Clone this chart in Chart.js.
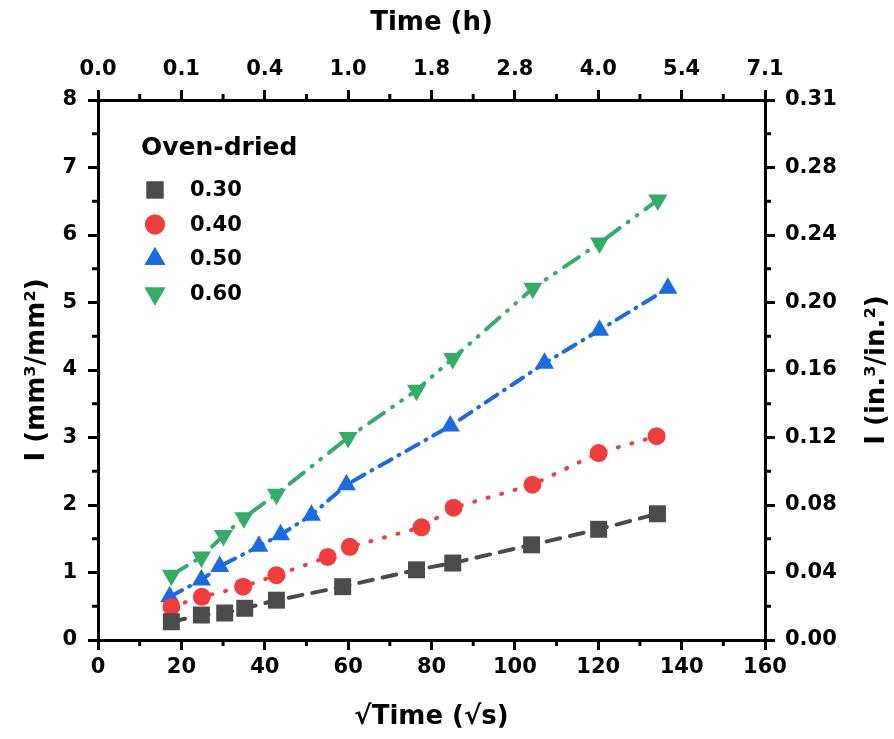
<!DOCTYPE html>
<html><head><meta charset="utf-8">
<script src="https://cdn.jsdelivr.net/npm/chart.js@4/dist/chart.umd.min.js"></script>
<style>html,body{margin:0;padding:0;background:#fff;overflow:hidden}#wrap{width:894px;height:739px;position:relative}</style>
</head><body><div id="wrap"><canvas id="c" width="894" height="739"></canvas></div>
<script>
// ---- data ----
const seriesNames = ['0.30', '0.40', '0.50', '0.60'];
const legendTitle = 'Oven-dried';

const xGray = [17.6, 24.8, 30.4, 35.2, 42.8, 58.7, 76.4, 85.1, 104.0, 120.1, 134.2];
const yGray = [0.27, 0.37, 0.40, 0.47, 0.59, 0.79, 1.04, 1.14, 1.41, 1.64, 1.87];

const xRed = [17.6, 24.9, 34.8, 42.8, 55.1, 60.4, 77.6, 85.3, 104.2, 120.1, 134.0];
const yRed = [0.49, 0.64, 0.79, 0.96, 1.23, 1.38, 1.67, 1.96, 2.30, 2.77, 3.02];

const xBlue = [17.2, 24.8, 29.2, 38.6, 43.8, 51.2, 59.6, 84.5, 107.1, 120.3, 136.7];
const yBlue = [0.64, 0.89, 1.09, 1.39, 1.56, 1.85, 2.30, 3.17, 4.10, 4.59, 5.21];

const xGreen = [17.6, 24.8, 30.1, 35.0, 42.8, 60.0, 76.4, 85.1, 104.3, 120.3, 134.3];
const yGreen = [0.96, 1.23, 1.55, 1.81, 2.16, 3.00, 3.70, 4.17, 5.21, 5.88, 6.52];

const bottomTickLabels = ['0', '20', '40', '60', '80', '100', '120', '140', '160'];
const topTickLabels = ['0.0', '0.1', '0.4', '1.0', '1.8', '2.8', '4.0', '5.4', '7.1'];
const leftTickLabels = ['0', '1', '2', '3', '4', '5', '6', '7', '8'];
const rightTickLabels = ['0.00', '0.04', '0.08', '0.12', '0.16', '0.20', '0.24', '0.28', '0.31'];

const xTitle = '√Time (√s)';
const x2Title = 'Time (h)';
const yTitle = 'I (mm³/mm²)';
const y2Title = 'I (in.³/in.²)';

// ---- styles ----
const FAM = "'DejaVu Sans', 'Liberation Sans', sans-serif";
const colors = ['#4b4b4b', '#ee3d3d', '#1a6ce0', '#35ac69'];
const styles = [
  {pointStyle: 'rect', radius: 12, rotation: 0, dash: [14, 10]},
  {pointStyle: 'circle', radius: 9, rotation: 0, dash: [1, 13]},
  {pointStyle: 'triangle', radius: 11, rotation: 0, dash: [14, 8, 1, 8]},
  {pointStyle: 'triangle', radius: 11, rotation: 180, dash: [18, 10, 1, 10, 1, 10]}
];
const xs = [xGray, xRed, xBlue, xGreen];
const ys = [yGray, yRed, yBlue, yGreen];

const datasets = seriesNames.map((name, k) => ({
  label: name,
  data: xs[k].map((x, i) => ({x: x, y: ys[k][i]})),
  showLine: true,
  borderColor: colors[k],
  backgroundColor: colors[k],
  borderWidth: 4,
  borderDash: styles[k].dash,
  borderCapStyle: 'round',
  pointStyle: styles[k].pointStyle,
  pointRadius: styles[k].radius,
  pointRotation: styles[k].rotation,
  pointBorderWidth: 0,
  pointBackgroundColor: colors[k],
  fill: false,
  tension: 0
}));

const tickFont = {family: FAM, size: 21, weight: 'bold'};
const titleFont = {family: FAM, size: 26, weight: 'bold'};

function axisCommon() {
  return {
    type: 'linear',
    grid: {display: true, drawOnChartArea: false, color: '#000', tickColor: '#000', tickLength: 10, tickWidth: 3, lineWidth: 3},
    border: {display: true, color: '#000', width: 3}
  };
}

const minorTicks = {
  id: 'minorTicks',
  afterDraw(chart) {
    const ctx = chart.ctx, ca = chart.chartArea;
    ctx.save();
    ctx.strokeStyle = '#000';
    ctx.lineWidth = 3;
    const L = 6;
    const sx = chart.scales.x, sy = chart.scales.y;
    for (let v = 10; v < 160; v += 20) {
      const px = sx.getPixelForValue(v);
      ctx.beginPath(); ctx.moveTo(px, ca.bottom); ctx.lineTo(px, ca.bottom + L); ctx.stroke();
      ctx.beginPath(); ctx.moveTo(px, ca.top); ctx.lineTo(px, ca.top - L); ctx.stroke();
    }
    for (let v = 0.5; v < 8; v += 1) {
      const py = sy.getPixelForValue(v);
      ctx.beginPath(); ctx.moveTo(ca.left, py); ctx.lineTo(ca.left - L, py); ctx.stroke();
      ctx.beginPath(); ctx.moveTo(ca.right, py); ctx.lineTo(ca.right + L, py); ctx.stroke();
    }
    // right axis title (reads bottom-to-top)
    ctx.fillStyle = '#000';
    ctx.font = 'bold 26px ' + FAM;
    ctx.textAlign = 'center';
    ctx.textBaseline = 'middle';
    ctx.translate(877, (ca.top + ca.bottom) / 2);
    ctx.rotate(-Math.PI / 2);
    ctx.fillText(y2Title, 0, 0);
    ctx.restore();
  }
};

const legendPlugin = {
  id: 'customLegend',
  afterDatasetsDraw(chart) {
    const ctx = chart.ctx;
    ctx.save();
    ctx.fillStyle = '#000';
    ctx.font = 'bold 25px ' + FAM;
    ctx.textAlign = 'left';
    ctx.textBaseline = 'middle';
    ctx.fillText(legendTitle, 141, 148);
    ctx.font = 'bold 21px ' + FAM;
    const lr = [12, 10, 12, 12];
    seriesNames.forEach((name, k) => {
      const y = 190 + 34.5 * k;
      ctx.fillStyle = colors[k];
      Chart.helpers.drawPoint(ctx, {pointStyle: styles[k].pointStyle, radius: lr[k], rotation: styles[k].rotation, borderWidth: 0}, 155, y);
      ctx.fill();
      ctx.fillStyle = '#000';
      ctx.fillText(name, 190, y + 1);
    });
    ctx.restore();
  }
};

new Chart(document.getElementById('c'), {
  type: 'scatter',
  data: {datasets: datasets},
  options: {
    responsive: false,
    animation: false,
    devicePixelRatio: 1,
    layout: {padding: 0},
    plugins: {legend: {display: false}, tooltip: {enabled: false}},
    scales: {
      x: Object.assign(axisCommon(), {
        position: 'bottom', min: 0, max: 160,
        ticks: {stepSize: 20, color: '#000', font: tickFont, padding: 5, maxRotation: 0,
          callback: (v, i) => bottomTickLabels[i]},
        title: {display: true, text: xTitle, color: '#000', font: titleFont, padding: {top: 0, bottom: 6}},
        afterFit: s => { s.height = 99; }
      }),
      x2: Object.assign(axisCommon(), {
        position: 'top', min: 0, max: 160,
        ticks: {stepSize: 20, color: '#000', font: tickFont, padding: 8, maxRotation: 0,
          callback: (v, i) => topTickLabels[i]},
        title: {display: true, text: x2Title, color: '#000', font: titleFont, padding: {top: 8, bottom: 0}},
        afterFit: s => { s.height = 100; }
      }),
      y: Object.assign(axisCommon(), {
        position: 'left', min: 0, max: 8,
        ticks: {stepSize: 1, color: '#000', font: tickFont, padding: 11,
          callback: (v, i) => leftTickLabels[i]},
        title: {display: true, text: yTitle, color: '#000', font: titleFont, padding: {top: 22, bottom: 0}},
        afterFit: s => { s.width = 98; }
      }),
      y2: Object.assign(axisCommon(), {
        position: 'right', min: 0, max: 8,
        ticks: {stepSize: 1, color: '#000', font: tickFont, padding: 10,
          callback: (v, i) => rightTickLabels[i]},
        title: {display: false},
        afterFit: s => { s.width = 129; }
      })
    }
  },
  plugins: [minorTicks, legendPlugin]
});
</script>
</body></html>
